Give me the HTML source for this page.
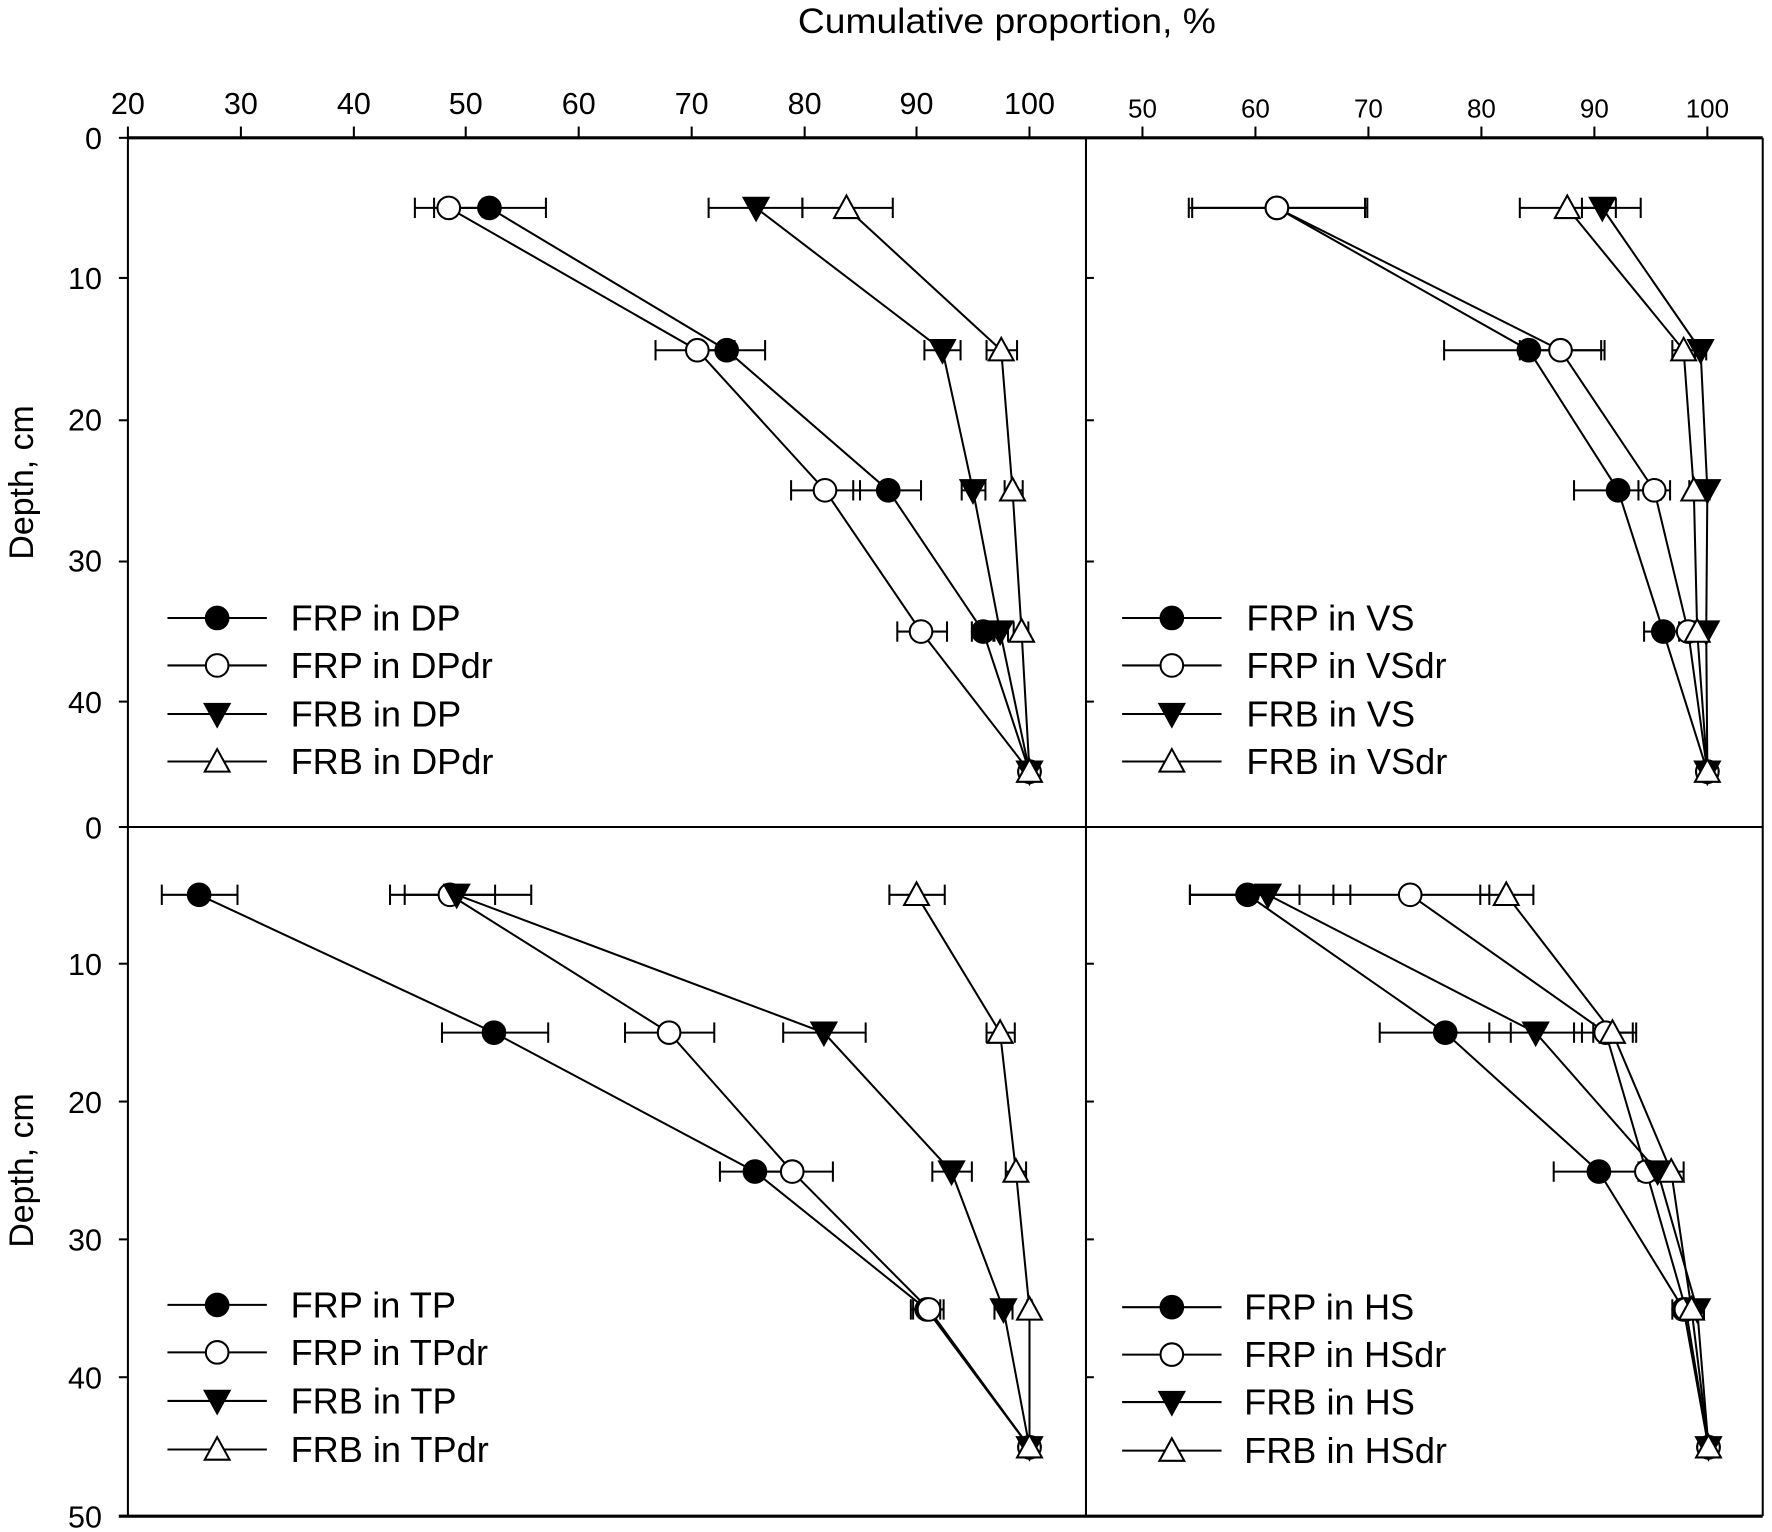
<!DOCTYPE html>
<html><head><meta charset="utf-8"><style>
html,body{margin:0;padding:0;background:#fff}
svg{display:block}
text{font-family:"Liberation Sans",Arial,sans-serif;fill:#000}
</style></head><body>
<svg id="s" width="1772" height="1532" viewBox="0 0 1568 1356" xmlns="http://www.w3.org/2000/svg">
<rect width="1568" height="1356" fill="#fff"/>
<text x="891" y="29" font-size="31" text-anchor="middle" textLength="370" lengthAdjust="spacingAndGlyphs">Cumulative proportion, %</text>
<g font-size="27" text-anchor="middle">
<text x="113" y="101">20</text><text x="213" y="101">30</text><text x="313" y="101">40</text><text x="412" y="101">50</text><text x="512" y="101">60</text><text x="612" y="101">70</text><text x="712" y="101">80</text><text x="811" y="101">90</text><text x="911" y="101">100</text>
</g>
<g font-size="23" text-anchor="middle">
<text x="1011" y="104">50</text><text x="1111" y="104">60</text><text x="1211" y="104">70</text><text x="1311" y="104">80</text><text x="1411" y="104">90</text><text x="1511" y="104">100</text>
</g>
<g font-size="27" text-anchor="end">
<text x="90" y="132">0</text><text x="90" y="256">10</text><text x="90" y="381">20</text><text x="90" y="506">30</text><text x="90" y="631">40</text><text x="90" y="742">0</text>
<text x="90" y="863">10</text><text x="90" y="985">20</text><text x="90" y="1107">30</text><text x="90" y="1229">40</text><text x="90" y="1352">50</text>
</g>
<text transform="translate(29,427) rotate(-90)" font-size="30" text-anchor="middle">Depth, cm</text>
<text transform="translate(29,1036) rotate(-90)" font-size="30" text-anchor="middle">Depth, cm</text>
<g font-size="32">
<text x="257" y="558">FRP in DP</text><text x="257" y="600">FRP in DPdr</text><text x="257" y="643">FRB in DP</text><text x="257" y="685">FRB in DPdr</text>
<text x="1103" y="558">FRP in VS</text><text x="1103" y="600">FRP in VSdr</text><text x="1103" y="643">FRB in VS</text><text x="1103" y="685">FRB in VSdr</text>
<text x="257" y="1166">FRP in TP</text><text x="257" y="1208">FRP in TPdr</text><text x="257" y="1251">FRB in TP</text><text x="257" y="1294">FRB in TPdr</text>
<text x="1101" y="1168">FRP in HS</text><text x="1101" y="1210">FRP in HSdr</text><text x="1101" y="1252">FRB in HS</text><text x="1101" y="1295">FRB in HSdr</text>
</g>
<g id="g" stroke="#000" fill="none" stroke-width="1.8"></g>
</svg>
<script>
var g=document.getElementById('g'),NS='http://www.w3.org/2000/svg';
function el(t,a){var e=document.createElementNS(NS,t);for(var k in a)e.setAttribute(k,a[k]);g.appendChild(e);return e;}
function line(x1,y1,x2,y2,w){el('line',{x1:x1,y1:y1,x2:x2,y2:y2,'stroke-width':w||1.8});}
line(113,122,1560,122,2.8);line(113,122,113,1342,1.8);line(961,122,961,1342,1.8);line(1560,122,1560,1342,1.8);
line(113,732,1560,732,1.8);line(105,1342,1560,1342,2.8);
[113,213,313,412,512,612,712,811,911,1011,1111,1211,1311,1411,1511].forEach(function(x){line(x,112,x,122);});
[122,246,372,497,621,732,853,975,1097,1219,1342].forEach(function(y){line(105,y,113,y);line(961,y,968,y);});
function mark(t,x,y){
 if(t==0)el('circle',{cx:x,cy:y,r:10,fill:'#000'});
 else if(t==1)el('circle',{cx:x,cy:y,r:10,fill:'#fff'});
 else if(t==2)el('polygon',{points:(x-11)+','+(y-9)+' '+(x+11)+','+(y-9)+' '+x+','+(y+11),fill:'#000'});
 else el('polygon',{points:(x-11)+','+(y+9)+' '+(x+11)+','+(y+9)+' '+x+','+(y-11),fill:'#fff'});
}
var P=[
 {ys:[184,310,434,559,683],s:[
  [0,[[433,384,483],[643,613,677],[786,755,815],[870,860,880],[911,911,911]]],
  [1,[[397,367,427],[617,580,650],[730,700,761],[815,794,838],[911,911,911]]],
  [2,[[669,627,710],[834,818,850],[861,851,872],[885,879,892],[911,911,911]]],
  [3,[[749,710,790],[886,873,900],[896,889,905],[904,897,910],[911,911,911]]]]},
 {ys:[184,310,434,559,683],s:[
  [0,[[1130,1052,1210],[1353,1278,1420],[1432,1393,1470],[1472,1455,1490],[1511,1511,1511]]],
  [1,[[1130,1055,1208],[1381,1345,1417],[1464,1450,1478],[1494,1486,1502],[1511,1511,1511]]],
  [2,[[1418,1400,1452],[1505,1500,1510],[1511,1508,1513],[1510,1508,1512],[1511,1511,1511]]],
  [3,[[1387,1345,1430],[1490,1480,1500],[1499,1495,1505],[1502,1498,1506],[1511,1511,1511]]]]},
 {ys:[792,914,1037,1159,1281],s:[
  [0,[[176,143,210],[437,391,485],[668,637,700],[820,808,832],[911,911,911]]],
  [1,[[398,345,438],[592,553,632],[701,673,737],[822,806,835],[911,911,911]]],
  [2,[[404,358,470],[729,693,766],[842,825,860],[888,880,896],[911,911,911]]],
  [3,[[811,787,836],[885,873,898],[899,890,908],[911,909,913],[911,911,911]]]]},
 {ys:[792,914,1037,1159,1281],s:[
  [0,[[1104,1053,1150],[1279,1221,1337],[1415,1375,1455],[1490,1480,1500],[1512,1512,1512]]],
  [1,[[1248,1180,1318],[1421,1393,1448],[1457,1450,1465],[1492,1484,1500],[1512,1512,1512]]],
  [2,[[1122,1053,1195],[1359,1318,1400],[1467,1455,1480],[1502,1496,1508],[1512,1512,1512]]],
  [3,[[1333,1310,1357],[1427,1410,1445],[1479,1470,1490],[1497,1490,1504],[1512,1512,1512]]]]}
];
P.forEach(function(p){
 p.s.forEach(function(s){
  var d=s[1],pts=d.map(function(v,i){return v[0]+','+p.ys[i];}).join(' ');
  el('polyline',{points:pts});
  d.forEach(function(v,i){var y=p.ys[i];if(v[1]!=v[2]){line(v[1],y,v[2],y);line(v[1],y-9,v[1],y+9);line(v[2],y-9,v[2],y+9);}});
 });
 p.s.forEach(function(s){s[1].forEach(function(v,i){mark(s[0],v[0],p.ys[i]);});});
});
[[148,[547,589,632,674]],[993,[547,589,632,674]],[148,[1155,1197,1240,1283]],[993,[1157,1199,1241,1284]]].forEach(function(L){
 L[1].forEach(function(y,i){line(L[0],y,L[0]+88,y);mark(i,L[0]+44,y);});
});
</script>
</body></html>
